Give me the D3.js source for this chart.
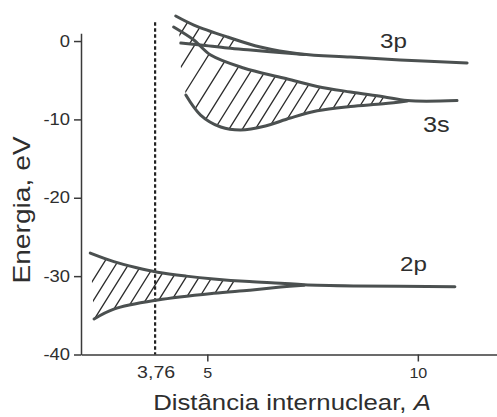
<!DOCTYPE html>
<html>
<head>
<meta charset="utf-8">
<script src="https://cdn.jsdelivr.net/npm/d3@7"></script>
<style>
  body { margin: 0; background: #fff; }
  svg { display: block; font-family: "Liberation Sans", Arial, sans-serif; }
</style>
</head>
<body>
<div id="chart"></div>
<script>
// Energy levels (eV) against internuclear distance (A)

var x2pUpper = [2.22, 2.78, 3.3, 3.82, 4.5, 5.15, 6.0, 6.74, 7.3, 8.5, 10.88];
var y2pUpper = [-27.06, -28.15, -28.9, -29.5, -30.0, -30.36, -30.7, -30.9, -31.1, -31.25, -31.35];
var x2pLower = [2.31, 2.78, 3.82, 5.15, 6.0, 6.74, 7.3];
var y2pLower = [-35.46, -34.2, -33.04, -32.18, -31.8, -31.4, -31.15];

var x3pUpper = [4.25, 4.68, 5.48, 6.26, 7.21, 8.4, 9.58, 11.17];
var y3pUpper = [3.19, 2.04, 0.51, -0.77, -1.65, -2.04, -2.42, -2.81];
var x3pLower = [4.37, 4.84, 5.48, 6.03, 6.86, 7.3];
var y3pLower = [-0.26, -0.51, -0.89, -1.15, -1.53, -1.72];

var x3sUpper = [4.2, 4.68, 5.08, 5.86, 6.81, 7.61, 8.4, 9.18, 9.75, 10.93];
var y3sUpper = [1.79, 0.13, -1.79, -3.44, -4.72, -5.8, -6.5, -7.1, -7.6, -7.6];
var x3sLower = [4.49, 4.84, 5.32, 5.79, 6.38, 6.97, 7.61, 8.4, 9.18, 9.75];
var y3sLower = [-6.89, -9.44, -10.97, -11.35, -10.84, -9.82, -8.9, -8.35, -8.0, -7.65];

var equilibrium = 3.76;

var xMajorTicks = [5, 10];
var xMinorTicks = [2.5, 7.5];
var yMajorTicks = [0, -10, -20, -30, -40];
var yMinorTicks = [-5, -15, -25, -35];

var levelNames = ["3p", "3s", "2p"];

var width = 497,
    height = 417;

var curveColor = "#4b5050",
    inkColor = "#2e2e2e";

var x = d3.scaleLinear().domain([2, 11.88]).range([81, 497]);
var y = d3.scaleLinear().domain([-40, 1]).range([354.5, 33.2]);

var svg = d3.select("#chart")
    .append("svg")
    .attr("width", width)
    .attr("height", height);

var defs = svg.append("defs");

function pts(xs, ys) {
    return xs.map(function(v, i) { return [v, ys[i]]; });
}

var line = d3.line()
    .x(function(d) { return x(d[0]); })
    .y(function(d) { return y(d[1]); })
    .curve(d3.curveCatmullRom.alpha(0.5));

// Hatched band between two curves, spacing gets tighter where the band narrows

function hatch(id, upX, upY, loX, loY, x0, x1) {
    var up = pts(upX, upY),
        lo = pts(loX, loY);
    var upF = d3.scaleLinear().domain(upX).range(upY).clamp(true);
    var loF = d3.scaleLinear().domain(loX).range(loY).clamp(true);

    defs.append("clipPath")
        .attr("id", id)
        .append("path")
        .attr("d", line(up) + line(lo.slice().reverse()).replace(/^M/, "L") + "Z");

    var marks = [];
    var px = x(x0);
    while (px <= x(x1)) {
        var v = x.invert(px);
        var a = y(upF(v)), b = y(loF(v));
        marks.push([px, (a + b) / 2]);
        px += Math.max(5, Math.min(13, Math.abs(b - a) * 0.85));
    }

    var ang = 58 * Math.PI / 180,
        L = 90,
        cx = Math.cos(ang) * L,
        cy = Math.sin(ang) * L;

    svg.append("g")
        .attr("clip-path", "url(#" + id + ")")
        .selectAll("line")
        .data(marks)
        .enter().append("line")
        .attr("x1", function(d) { return d[0] - cx; })
        .attr("y1", function(d) { return d[1] + cy; })
        .attr("x2", function(d) { return d[0] + cx; })
        .attr("y2", function(d) { return d[1] - cy; })
        .attr("stroke", "#2a2a2a")
        .attr("stroke-width", 1.3);
}

hatch("h2p", x2pUpper, y2pUpper, x2pLower, y2pLower, 2.2, 5.7);
hatch("h3p", x3pUpper, y3pUpper, x3pLower, y3pLower, 4.4, 5.75);
hatch("h3s", x3sUpper, y3sUpper, x3sLower, y3sLower, 4.42, 9.2);

// Axes

var axisColor = "#3a3a3a";
var plain = function(d) { return String(d); };

var gx = svg.append("g").attr("transform", "translate(0," + y(-40) + ")");
gx.call(d3.axisBottom(x).tickValues(xMinorTicks).tickSize(5).tickFormat(""));
gx.call(d3.axisBottom(x).tickValues(xMajorTicks).tickSize(7).tickSizeOuter(0).tickFormat(plain));

var gy = svg.append("g").attr("transform", "translate(" + x(2) + ",0)");
gy.call(d3.axisLeft(y).tickValues(yMinorTicks).tickSize(4).tickFormat(""));
gy.call(d3.axisLeft(y).tickValues(yMajorTicks).tickSize(7).tickSizeOuter(0).tickPadding(2.5).tickFormat(plain));

svg.selectAll(".domain, .tick line")
    .attr("stroke", axisColor)
    .attr("stroke-width", 1.5);

gx.selectAll(".tick text")
    .attr("font-size", 14)
    .attr("fill", inkColor)
    .attr("y", 0)
    .attr("dy", 0)
    .attr("transform", "translate(0," + (378 - y(-40)) + ") scale(1.15,1)");

gy.selectAll(".tick text")
    .attr("font-size", 16)
    .attr("fill", inkColor)
    .attr("transform", "scale(1.15,1)");

// Dashed line at the equilibrium distance

svg.append("line")
    .attr("x1", x(equilibrium))
    .attr("x2", x(equilibrium))
    .attr("y1", y(2.4))
    .attr("y2", y(-40))
    .attr("stroke", "#222")
    .attr("stroke-width", 2.2)
    .attr("stroke-dasharray", "3.5,2.5");

// Level curves

var curves = [
    pts(x2pUpper, y2pUpper), pts(x2pLower, y2pLower),
    pts(x3pUpper, y3pUpper), pts(x3pLower, y3pLower),
    pts(x3sUpper, y3sUpper), pts(x3sLower, y3sLower)
];

svg.append("g")
    .selectAll("path")
    .data(curves)
    .enter().append("path")
    .attr("d", line)
    .attr("fill", "none")
    .attr("stroke", curveColor)
    .attr("stroke-width", 3)
    .attr("stroke-linecap", "round");

// Text

function label(tx, ty, str, size, anchor, rot, sx) {
    return svg.append("text")
        .attr("transform", "translate(" + tx + "," + ty + ")" + (rot ? " rotate(" + rot + ")" : "") + " scale(" + sx + ",1)")
        .attr("font-size", size)
        .attr("text-anchor", anchor)
        .attr("fill", inkColor)
        .text(str);
}

label(x(equilibrium) + 1, 378, "3,76", 17, "middle", 0, 1.15);

label(380, 48, levelNames[0], 21, "start", 0, 1.15);
label(423, 132, levelNames[1], 22, "start", 0, 1.15);
label(400, 270.5, levelNames[2], 21, "start", 0, 1.15);

label(292, 410, "Distância internuclear, ", 23, "middle", 0, 1.12)
    .append("tspan")
    .attr("font-style", "italic")
    .text("A");

label(29.5, 210, "Energia, eV", 23.5, "middle", -90, 1.2);
</script>
</body>
</html>
